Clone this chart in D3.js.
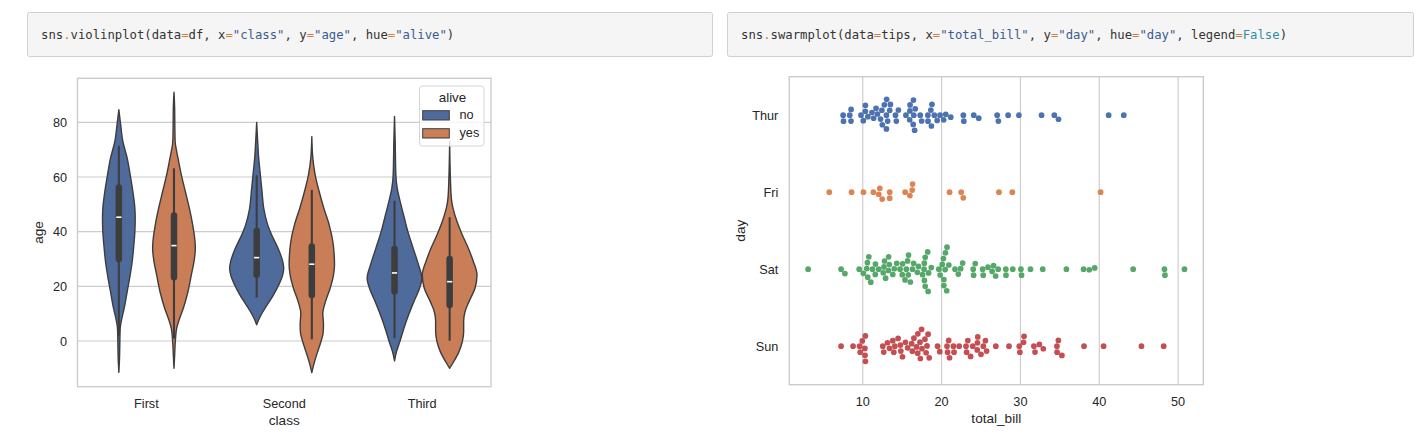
<!DOCTYPE html>
<html><head><meta charset="utf-8">
<script src="https://cdn.jsdelivr.net/npm/d3@7"></script>
<style>
html,body{margin:0;padding:0;background:#fff;}
svg{display:block;}
text{font-family:"Liberation Sans",Arial,sans-serif;fill:#262626;}
.code{font-family:"DejaVu Sans Mono",monospace;font-size:12.25px;white-space:pre;}
</style></head>
<body>
<svg id="chart" width="1426" height="444"></svg>
<script>
// ---------------- DATA ----------------
// code captions (token, kind)
const leftCode = [["sns","n"],[".","o"],["violinplot(data","n"],["=","o"],["df, x","n"],["=","o"],['"class"',"s"],[", y","n"],["=","o"],['"age"',"s"],[", hue","n"],["=","o"],['"alive"',"s"],[")","n"]];
const rightCode = [["sns","n"],[".","o"],["swarmplot(data","n"],["=","o"],["tips, x","n"],["=","o"],['"total_bill"',"s"],[", y","n"],["=","o"],['"day"',"s"],[", hue","n"],["=","o"],['"day"',"s"],[", legend","n"],["=","o"],["False","k"],[")","n"]];

// violin plot
const classes = ["First", "Second", "Third"];
const aliveLevels = ["no", "yes"];
const ageTicks = [0, 20, 40, 60, 80];
// density profiles: [age, density]
const firstNo = [[-11.5,0],[-6.3,2],[-0.2,3],[4.6,4],[8.3,9],[12,16],[18.1,25],[24.2,34],[29.1,40],[33.9,44],[40,48],[44.9,49],[48.6,48],[54.7,42],[60.8,34],[66.9,25],[73,12],[79.1,5.5],[84.6,0]];
const firstYes = [[-10,0],[-5.1,2],[-0.2,4],[4.6,8],[8.3,17],[12,28],[18.1,42],[24.2,52],[29.1,60],[33.9,64],[36.4,63],[42.5,56],[48.6,46],[54.7,34],[60.8,22],[66.9,12],[69.4,8],[73,3.5],[79.1,2.5],[85.2,2],[91,0]];
const secondNo = [[5.9,0],[8.3,8],[12,25],[16.8,50],[20.5,66],[24.2,78],[26.6,81],[29.1,78],[33.9,64],[38.8,45],[42.5,33],[48.6,21],[54.7,16],[60.8,11],[66.9,6],[73,3],[80,0]];
const secondYes = [[-11.6,0],[-9,5],[-6,12],[-3,20],[0,28],[3,34],[6,35],[10,33],[14.4,41],[19.3,55],[24.2,65],[27.8,68],[31.5,67],[36.4,63],[42.5,52],[48.6,36],[54.7,22],[60.8,10],[66.9,3],[74.8,0]];
const thirdNo = [[-7.3,0],[-3.9,6],[-0.2,16],[4.6,28],[9.5,42],[14.4,58],[19.3,75],[23,82],[27.8,72],[33.9,56],[40,40],[46.2,27],[51,17],[55.9,8],[60.8,4],[73,2],[82.2,0]];
const thirdYes = [[-10,0],[-7.6,12],[-3.9,28],[-0.2,38],[3.4,42],[7.1,42],[10.7,46],[14.4,58],[19.3,76],[24.2,82],[29.1,71],[33.9,56],[38.8,38],[43.7,22],[48.6,10],[52.3,5],[60.8,2],[73,0]];
// box stats per class: [whiskerLow, q1, median, q3, whiskerHigh]
const boxNo = [[2,30,45.3,56.2,71.4],[15.9,24.2,30.5,40.3,60.6],[1,18.1,24.9,33.7,51.3]];
const boxYes = [[0.9,23.3,34.9,45.9,63.2],[0.6,16.8,28.1,34.6,55.3],[0.1,13.2,21.7,30,45.3]];

// swarm plot (tips dataset, total_bill by day)
const days = ["Thur", "Fri", "Sat", "Sun"];
const billTicks = [10, 20, 30, 40, 50];
const thurBills = [27.20,22.76,17.29,19.44,16.66,10.07,32.68,15.98,34.83,13.03,18.28,24.71,21.16,10.65,12.43,24.08,11.69,13.42,14.26,15.95,12.48,29.80,8.52,14.52,11.38,22.82,19.08,20.27,11.17,12.26,18.26,8.51,10.33,14.15,16.00,13.16,17.47,34.30,41.19,27.05,16.43,8.35,18.64,11.87,9.78,7.51,19.81,28.44,15.48,16.58,7.56,10.34,43.11,13.00,13.51,18.71,12.74,13.00,16.40,20.53,16.47,18.78];
const friBills = [28.97,22.49,5.75,16.32,22.75,40.17,27.28,12.03,21.01,12.46,11.35,15.38,12.16,13.42,8.58,15.98,13.42,16.27,10.09];
const satBills = [20.65,17.92,20.29,15.77,39.42,19.82,17.81,13.37,12.69,21.70,19.65,9.55,18.35,15.06,20.69,17.78,24.06,16.31,16.93,18.69,31.27,16.04,38.01,26.41,11.24,48.27,20.29,13.81,11.02,18.29,17.59,20.08,16.45,3.07,20.23,15.01,12.02,17.07,26.86,25.28,14.73,10.51,17.92,44.30,22.42,20.92,15.36,20.49,25.21,18.24,14.31,14.00,7.25,10.59,10.63,50.81,15.81,26.59,38.73,24.27,12.76,30.06,25.89,48.33,13.27,28.17,12.90,28.15,11.59,7.74,30.14,20.45,13.28,22.12,24.01,15.69,11.61,10.77,15.53,10.07,12.60,32.83,35.83,29.03,27.18,22.67,17.82];
const sunBills = [16.99,10.34,21.01,23.68,24.59,25.29,8.77,26.88,15.04,14.78,10.27,35.26,15.42,18.43,14.83,21.58,10.33,16.29,16.97,17.46,13.94,9.68,30.40,18.29,22.23,32.40,28.55,18.04,12.54,10.29,34.81,9.94,25.56,19.49,38.07,23.95,25.71,17.31,29.93,14.07,13.13,17.26,24.55,19.77,29.85,48.17,25.00,13.39,16.49,21.50,12.66,16.21,13.81,17.51,24.52,20.76,31.71,7.25,31.85,16.82,32.90,17.89,14.48,9.60,34.63,34.65,23.33,45.35,23.17,40.55,20.69,20.90,30.46,18.15,23.10,15.69];

// ---------------- STYLE ----------------
const codeColors = {n:"#333333", o:"#d07f3c", s:"#3b5b8c", k:"#2f8fa2"};
const violinFill = {no:"#4f6b9c", yes:"#c97e58"};
const dayColors = ["#4c72b0","#dd8452","#55a868","#c44e52"];
const lineGray = "#3d3d3d";
const gridColor = "#cccccc";

const svg = d3.select("#chart");

// ---------- code boxes ----------
function codeBox(x0, x1, tokens, tx) {
  svg.append("rect").attr("x", x0 + 0.5).attr("y", 12.5).attr("width", x1 - x0).attr("height", 44)
    .attr("rx", 2).attr("fill", "#f5f5f5").attr("stroke", "#d0d0d0");
  const t = svg.append("text").attr("class", "code").attr("x", tx).attr("y", 39);
  tokens.forEach(([s, k]) => t.append("tspan").text(s).style("fill", codeColors[k]));
}
codeBox(27, 712, leftCode, 41);
codeBox(727, 1413, rightCode, 741);

// ---------- violin plot ----------
(function () {
  const L = 77.5, R = 491, T = 78.3, B = 386.7;
  const profiles = [[firstNo, firstYes], [secondNo, secondYes], [thirdNo, thirdYes]];
  const allAges = profiles.flat().flat().map(d => d[0]);
  const lo = d3.min(allAges), hi = d3.max(allAges), pad = (hi - lo) * 0.05;
  const y = d3.scaleLinear().domain([lo - pad, hi + pad]).range([B, T]);
  const x = d3.scaleBand().domain(classes).range([L, R]);
  const hue = d3.scaleBand().domain(aliveLevels).range([-x.bandwidth() * 0.4, x.bandwidth() * 0.4]);
  const maxD = d3.max(profiles.flat().flat(), d => d[1]);
  const w = d3.scaleLinear().domain([0, maxD]).range([0, hue.bandwidth() / 2 - 0.2]);

  const g = svg.append("g");
  g.selectAll(".gy").data(ageTicks).join("line")
    .attr("x1", L).attr("x2", R).attr("y1", d => y(d)).attr("y2", d => y(d))
    .attr("stroke", gridColor).attr("stroke-width", 1.15);

  classes.forEach((c, ci) => {
    aliveLevels.forEach((a, ai) => {
      const cx = x(c) + x.bandwidth() / 2 + hue(a) + hue.bandwidth() / 2;
      const prof = profiles[ci][ai];
      const area = d3.area().curve(d3.curveMonotoneY)
        .y(d => y(d[0])).x0(d => cx - w(d[1])).x1(d => cx + w(d[1]));
      g.append("path").attr("d", area(prof)).attr("fill", violinFill[a])
        .attr("stroke", lineGray).attr("stroke-width", 1.4).attr("stroke-linejoin", "round");
      const b = (a === "no" ? boxNo : boxYes)[ci];
      g.append("line").attr("x1", cx).attr("x2", cx).attr("y1", y(b[0])).attr("y2", y(b[4]))
        .attr("stroke", lineGray).attr("stroke-width", 2.1);
      g.append("line").attr("x1", cx).attr("x2", cx).attr("y1", y(b[1])).attr("y2", y(b[3]))
        .attr("stroke", lineGray).attr("stroke-width", 6.5).attr("stroke-linecap", "round");
      g.append("line").attr("x1", cx - 2.6).attr("x2", cx + 2.6).attr("y1", y(b[2])).attr("y2", y(b[2]))
        .attr("stroke", "#ffffff").attr("stroke-width", 1.6);
    });
  });

  g.append("rect").attr("x", L).attr("y", T).attr("width", R - L).attr("height", B - T)
    .attr("fill", "none").attr("stroke", gridColor).attr("stroke-width", 1.4);

  g.selectAll(".ty").data(ageTicks).join("text")
    .attr("x", L - 10.5).attr("y", d => y(d)).attr("dy", "0.36em")
    .attr("text-anchor", "end").style("font-size", "12.7px").text(d => d);
  g.selectAll(".tx").data(classes).join("text")
    .attr("x", d => x(d) + x.bandwidth() / 2).attr("y", B + 21)
    .attr("text-anchor", "middle").style("font-size", "12.7px").text(d => d);
  g.append("text").attr("x", (L + R) / 2).attr("y", B + 38.6).attr("text-anchor", "middle")
    .style("font-size", "13.6px").text("class");
  g.append("text").attr("transform", `translate(43,${(T + B) / 2}) rotate(-90)`)
    .attr("text-anchor", "middle").style("font-size", "13.6px").text("age");

  const lg = g.append("g");
  lg.append("rect").attr("x", 419.5).attr("y", 86).attr("width", 64.5).attr("height", 60).attr("rx", 3)
    .attr("fill", "#ffffff").attr("fill-opacity", 0.8).attr("stroke", "#d6d6d6").attr("stroke-width", 1);
  lg.append("text").attr("x", 452.5).attr("y", 101.5).attr("text-anchor", "middle")
    .style("font-size", "13.4px").text("alive");
  aliveLevels.forEach((a, i) => {
    const yy = 110.7 + i * 18;
    lg.append("rect").attr("x", 422.7).attr("y", yy).attr("width", 26.6).attr("height", 9.3)
      .attr("fill", violinFill[a]).attr("stroke", lineGray).attr("stroke-width", 1);
    lg.append("text").attr("x", 459.5).attr("y", yy + 8.7).style("font-size", "12.7px").text(a);
  });
})();

// ---------- swarm plot ----------
(function () {
  const L = 789.3, R = 1203.3, T = 76.7, B = 384.7;
  const groups = [thurBills, friBills, satBills, sunBills];
  const all = groups.flat();
  const lo = d3.min(all), hi = d3.max(all), pad = (hi - lo) * 0.05;
  const x = d3.scaleLinear().domain([lo - pad, hi + pad]).range([L, R]);
  const y = d3.scalePoint().domain(days).range([T, B]).padding(0.5);
  const r = 2.85;
  const halfWidth = 0.4 * y.step();

  function beeswarm(vals, center) {
    const pts = vals.map(v => ({ v, x: x(v) })).sort((a, b) => a.x - b.x);
    const swarm = [];
    for (const p of pts) {
      if (!swarm.length) { p.y = center; swarm.push(p); continue; }
      const nb = [];
      for (let j = swarm.length - 1; j >= 0; j--) {
        if (p.x - swarm[j].x < 2 * r) nb.push(swarm[j]); else break;
      }
      const cands = [center];
      let leftFirst = true;
      for (const q of nb) {
        const d = p.x - q.x;
        const dd = Math.sqrt(Math.max(4 * r * r - d * d, 0)) * 1.05;
        const cl = q.y + dd, cr = q.y - dd;
        if (leftFirst) cands.push(cl, cr); else cands.push(cr, cl);
        leftFirst = !leftFirst;
      }
      let chosen = center;
      if (nb.length) {
        const order = cands.map((c, i) => ({ c, o: Math.abs(c - center), i }))
          .sort((a, b) => a.o - b.o || a.i - b.i);
        for (const { c } of order) {
          if (nb.every(q => (q.x - p.x) ** 2 + (q.y - c) ** 2 >= 4 * r * r - 1e-9)) { chosen = c; break; }
        }
      }
      p.y = chosen;
      swarm.push(p);
    }
    swarm.forEach(p => { p.y = Math.max(center - halfWidth, Math.min(center + halfWidth, p.y)); });
    return swarm;
  }

  const g = svg.append("g");
  g.selectAll(".gx").data(billTicks).join("line")
    .attr("x1", d => x(d)).attr("x2", d => x(d)).attr("y1", T).attr("y2", B)
    .attr("stroke", gridColor).attr("stroke-width", 1.15);

  days.forEach((day, i) => {
    const pts = beeswarm(groups[i], y(day));
    g.append("g").selectAll("circle").data(pts).join("circle")
      .attr("cx", d => d.x).attr("cy", d => d.y).attr("r", r).attr("fill", dayColors[i]);
  });

  g.append("rect").attr("x", L).attr("y", T).attr("width", R - L).attr("height", B - T)
    .attr("fill", "none").attr("stroke", gridColor).attr("stroke-width", 1.4);

  g.selectAll(".tx").data(billTicks).join("text")
    .attr("x", d => x(d)).attr("y", B + 21).attr("text-anchor", "middle")
    .style("font-size", "12.7px").text(d => d);
  g.selectAll(".ty").data(days).join("text")
    .attr("x", L - 11).attr("y", d => y(d)).attr("dy", "0.36em").attr("text-anchor", "end")
    .style("font-size", "12.7px").text(d => d);
  g.append("text").attr("x", (L + R) / 2).attr("y", B + 38).attr("text-anchor", "middle")
    .style("font-size", "13.6px").text("total_bill");
  g.append("text").attr("transform", `translate(744.5,${(T + B) / 2}) rotate(-90)`)
    .attr("text-anchor", "middle").style("font-size", "13.6px").text("day");
})();
</script>
</body></html>
